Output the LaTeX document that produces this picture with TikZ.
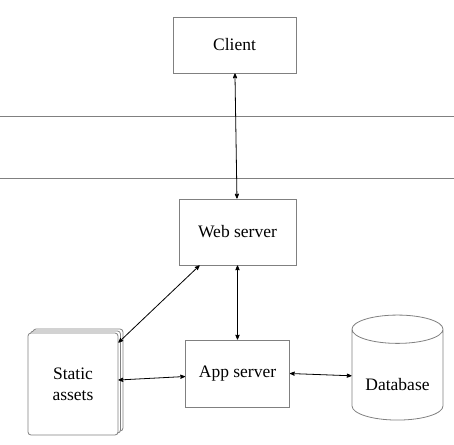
\documentclass[tikz,border=0pt]{standalone}
\usepackage{fontspec}
\setmainfont{Liberation Serif}
\usetikzlibrary{arrows}
\usetikzlibrary{positioning}
\usetikzlibrary{shapes.geometric}
\usetikzlibrary{shadows}
\begin{document}
\begin{tikzpicture}[<->,>=stealth',x=1pt,y=-1pt,line width=0.8pt]
		\tikzset{box/.style = {shape=rectangle, draw=gray, fill=white, align=center, font=\fontsize{17.5}{21}\selectfont}}
		\useasboundingbox (0,0) rectangle (454,444);
		
		\draw[-, gray] (0,116) -- (454,116);
		\draw[-, gray] (0,178) -- (454,178);
		
		\node[box, minimum width=123pt, minimum height=56pt] (CLIENT) at (234.5,45) {Client};
		\node[box, minimum width=117pt, minimum height=66pt] (WEB) at (237.5,232) {Web server};
		\node[box, minimum width=104pt, minimum height=67pt] (APP) at (237.5,373.5) {App server};
		\node[box, rounded corners=3pt, minimum width=90pt, minimum height=102pt,
			double copy shadow={shadow xshift=2.5pt, shadow yshift=2pt, draw=gray, fill=white}] (STATIC) at (73,384) {Static\\ assets};
		\node[box, shape=cylinder, shape border rotate=90, aspect=0.4, minimum width=91pt, minimum height=105pt, text height=26pt] (DB) at (397.5,377.5) {Database};
		
		\draw (CLIENT) -- (WEB);
		\draw (WEB) -- (APP);
		\draw ([xshift=21pt]WEB.south west) -- ([yshift=-10pt]STATIC.north east);
		\draw ([yshift=-3pt]APP.west) -- ([yshift=4pt]STATIC.east);
		\draw (APP.east) -- (DB);
		
\end{tikzpicture}
\end{document}
